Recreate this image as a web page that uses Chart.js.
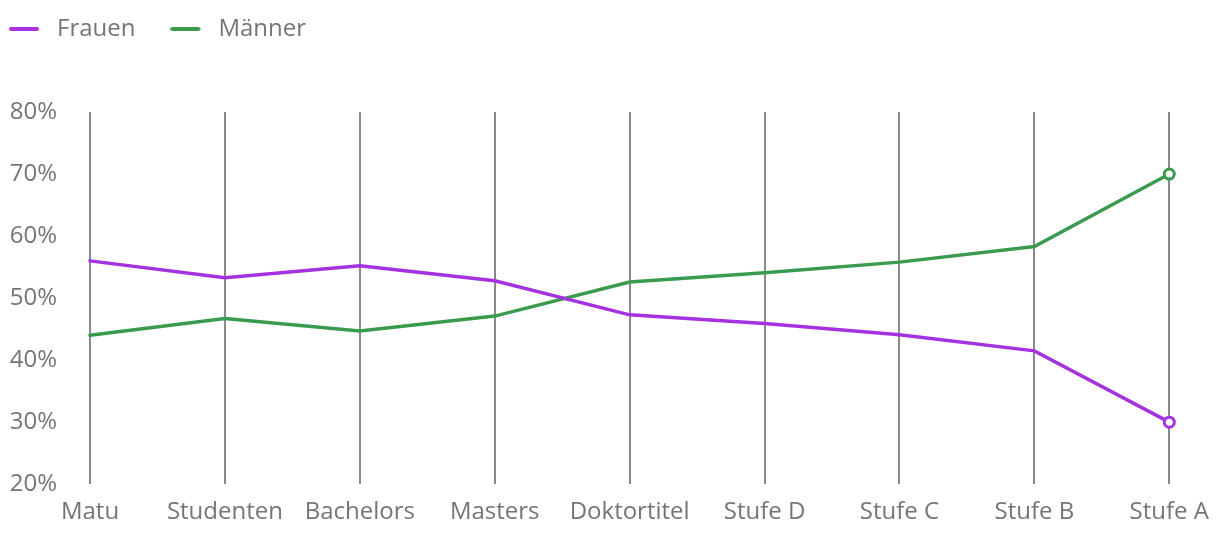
<!DOCTYPE html>
<html>
<head>
<meta charset="utf-8">
<script src="https://cdn.jsdelivr.net/npm/chart.js@4"></script>
<style>
html,body{margin:0;padding:0;background:#fff;}
#wrap{width:1220px;height:540px;position:relative;}
</style>
</head>
<body>
<div id="wrap"><canvas id="c"></canvas></div>
<script>
const categories = ["Matu","Studenten","Bachelors","Masters","Doktortitel","Stufe D","Stufe C","Stufe B","Stufe A"];
const frauen = [56.0, 53.3, 55.2, 52.8, 47.3, 45.9, 44.1, 41.5, 30.0];
const maenner = [44.0, 46.7, 44.7, 47.1, 52.6, 54.1, 55.8, 58.3, 70.0];
const yTicks = [20, 30, 40, 50, 60, 70, 80];

const purple = '#A532DF';
const green = '#3A9B4F';
const lastOnly = categories.map((_, i) => i === categories.length - 1 ? 5 : 0);

function legendLine(color) {
  const c = document.createElement('canvas');
  c.width = 36; c.height = 8;
  const g = c.getContext('2d');
  g.strokeStyle = color; g.lineWidth = 4; g.lineCap = 'round';
  g.beginPath(); g.moveTo(2, 4); g.lineTo(28, 4); g.stroke();
  return c;
}
const legendIcons = { Frauen: legendLine(purple), 'Männer': legendLine(green) };

Chart.defaults.font.family = '"Open Sans", sans-serif';
Chart.defaults.color = '#757575';

const legendHeight = {
  id: 'legendHeight',
  beforeInit(chart) {
    const orig = chart.legend.fit;
    chart.legend.fit = function () { orig.call(this); this.height = 130; };
  }
};

new Chart(document.getElementById('c'), {
  type: 'line',
  data: {
    labels: categories,
    datasets: [
      { label: 'Frauen', data: frauen, borderColor: purple, backgroundColor: purple,
        borderWidth: 3.5, pointRadius: lastOnly, pointHoverRadius: lastOnly,
        pointBackgroundColor: '#fff', pointBorderColor: purple, pointBorderWidth: 3,
        borderCapStyle: 'round', tension: 0 },
      { label: 'Männer', data: maenner, borderColor: green, backgroundColor: green,
        borderWidth: 3.5, pointRadius: lastOnly, pointHoverRadius: lastOnly,
        pointBackgroundColor: '#fff', pointBorderColor: green, pointBorderWidth: 3,
        borderCapStyle: 'round', tension: 0 }
    ]
  },
  options: {
    responsive: true,
    maintainAspectRatio: false,
    animation: false,
    layout: { padding: { left: -26, right: 0, top: -18, bottom: -1 } },
    plugins: {
      legend: {
        position: 'top',
        align: 'start',
        labels: {
          usePointStyle: true,
          pointStyleWidth: 36,
          boxHeight: 24,
          font: { size: 24 },
          color: '#757575',
          padding: 35,
          generateLabels(chart) {
            const items = Chart.defaults.plugins.legend.labels.generateLabels(chart);
            items.forEach(it => { it.pointStyle = legendIcons[it.text]; });
            return items;
          }
        }
      },
      tooltip: { enabled: false }
    },
    scales: {
      x: {
        offset: false,
        afterFit: (s) => { s.paddingRight = Math.max(0, s.paddingRight - 3); },
        grid: { display: true, color: '#8a8a8a', lineWidth: 2, drawTicks: false },
        border: { display: false },
        ticks: { font: { size: 24 }, color: '#757575', padding: 14, maxRotation: 0, autoSkip: false }
      },
      y: {
        min: 20, max: 80,
        afterBuildTicks: (s) => { s.ticks = yTicks.map(v => ({ value: v })); },
        afterFit: (s) => { s.width = 116; },
        grid: { display: false, drawTicks: false },
        border: { display: false },
        ticks: { font: { size: 24 }, color: '#757575', padding: 33,
          callback: (v) => v + '%' }
      }
    }
  },
  plugins: [legendHeight]
});
</script>
</body>
</html>
